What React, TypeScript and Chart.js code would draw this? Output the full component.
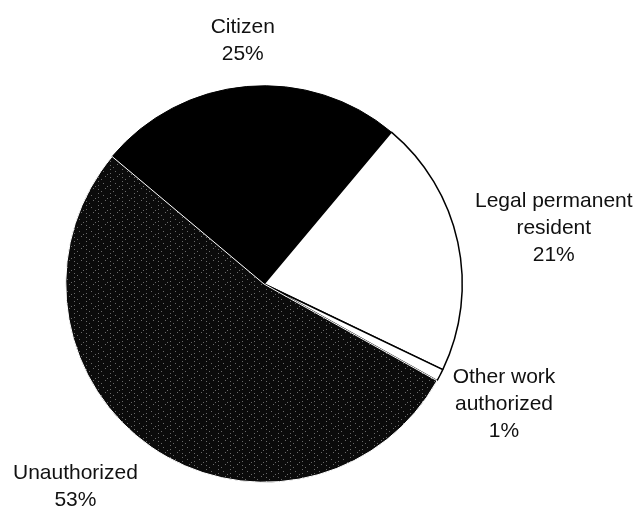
import React, { useEffect, useRef } from "react";
import { Chart, registerables } from "chart.js";

Chart.register(...registerables);

const categories = ["Citizen", "Legal permanent resident", "Other work authorized", "Unauthorized"];
const shares = [25, 21, 1, 53];
const labelLines = [
  ["Citizen", "25%"],
  ["Legal permanent", "resident", "21%"],
  ["Other work", "authorized", "1%"],
  ["Unauthorized", "53%"],
];
// label offsets (px) from the outer edge point at each slice's mid-angle
const labelOffsets = [
  [-4, -48],
  [96, -16],
  [64, 27],
  [-76, 38],
];

function makeStipple(): CanvasPattern | string {
  const c = document.createElement("canvas");
  c.width = 12;
  c.height = 12;
  const g = c.getContext("2d");
  if (!g) return "#111";
  g.fillStyle = "#0b0b0b";
  g.fillRect(0, 0, 12, 12);
  g.fillStyle = "#6a6a6a";
  const dots = [[2, 1], [2, 5], [2, 9], [7, 3], [9, 8], [5, 11], [11, 6]];
  dots.forEach(([x, y]) => g.fillRect(x, y, 1, 1));
  const p = g.createPattern(c, "repeat");
  return p || "#111";
}

const labelPlugin = {
  id: "outsideLabels",
  afterDatasetsDraw(chart: any) {
    const ctx = chart.ctx;
    const meta = chart.getDatasetMeta(0);
    ctx.save();
    ctx.font = '21px "Liberation Sans", Arial, sans-serif';
    ctx.fillStyle = "#111";
    ctx.textAlign = "center";
    ctx.textBaseline = "alphabetic";
    const lh = 27;
    meta.data.forEach((arc: any, i: number) => {
      const p = arc.getProps(["x", "y", "startAngle", "endAngle", "outerRadius"], true);
      const mid = (p.startAngle + p.endAngle) / 2;
      const ax = p.x + p.outerRadius * Math.cos(mid) + labelOffsets[i][0];
      const ay = p.y + p.outerRadius * Math.sin(mid) + labelOffsets[i][1];
      const lines = labelLines[i];
      const n = lines.length;
      lines.forEach((t, j) => {
        ctx.fillText(t, ax, ay + (j - (n - 1) / 2) * lh + 7.5);
      });
    });
    ctx.restore();
  },
};

export default function App() {
  const ref = useRef<HTMLCanvasElement | null>(null);
  useEffect(() => {
    document.body.style.margin = "0";
    if (!ref.current) return;
    const stipple = makeStipple();
    const chart = new Chart(ref.current, {
      type: "pie",
      data: {
        labels: categories,
        datasets: [
          {
            data: shares,
            backgroundColor: ["#000000", "#ffffff", "#ffffff", stipple as any],
            borderColor: ["#000000", "#000000", "#000000", "#ffffff"],
            borderWidth: [1, 1.5, 1.5, 1],
          },
        ],
      },
      options: {
        responsive: false,
        animation: false,
        rotation: -50,
        events: [],
        layout: { padding: { left: 65, right: 174, top: 85, bottom: 23 } },
        plugins: {
          legend: { display: false },
          tooltip: { enabled: false },
        },
      },
      plugins: [labelPlugin],
    });
    return () => chart.destroy();
  }, []);
  return (
    <div style={{ position: "fixed", left: 0, top: 0, width: 637, height: 506, background: "#fff" }}>
      <canvas ref={ref} width={637} height={506} style={{ display: "block" }} />
    </div>
  );
}
